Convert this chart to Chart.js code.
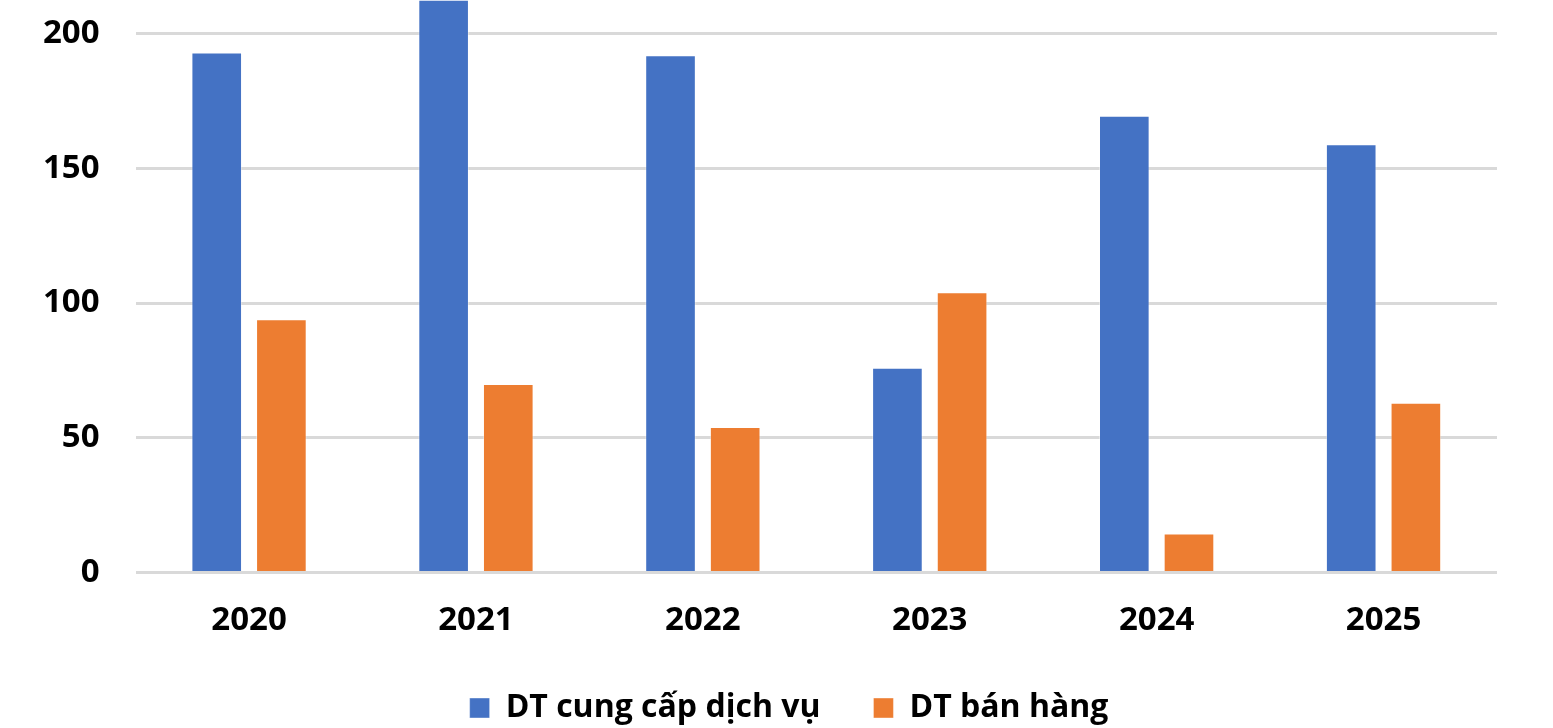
<!DOCTYPE html>
<html>
<head>
<meta charset="utf-8">
<script src="https://cdn.jsdelivr.net/npm/chart.js@4.4.1/dist/chart.umd.min.js"></script>
<style>
  html, body { margin: 0; padding: 0; background: #fff; }
  #wrap { width: 1553px; height: 728px; }
</style>
</head>
<body>
<div id="wrap"><canvas id="mainChart"></canvas></div>
<script>
const years = ["2020", "2021", "2022", "2023", "2024", "2025"];
const dichVu = [193, 230, 192, 76, 169.5, 159];
const banHang = [94, 70, 54, 104, 14.5, 63];
const yTicks = [0, 50, 100, 150, 200];

const font = { family: "'Open Sans', sans-serif", weight: "bold" };

// nudge the legend a bit right, like in the original
const legendShift = {
  id: "legendShift",
  afterLayout(chart) {
    chart.legend.left += 19;
    chart.legend.right += 19;
  },
};

new Chart(document.getElementById("mainChart"), {
  type: "bar",
  data: {
    labels: years,
    datasets: [
      {
        label: "DT cung cấp dịch vụ",
        data: dichVu,
        backgroundColor: "#4472C4",
        borderColor: "rgba(255,255,255,0.4)",
        borderWidth: 1,
        categoryPercentage: 0.57,
        barPercentage: 0.783,
      },
      {
        label: "DT bán hàng",
        data: banHang,
        backgroundColor: "#ED7D31",
        borderColor: "rgba(255,255,255,0.4)",
        borderWidth: 1,
        categoryPercentage: 0.57,
        barPercentage: 0.783,
      },
    ],
  },
  plugins: [legendShift],
  options: {
    responsive: true,
    maintainAspectRatio: false,
    animation: false,
    layout: { padding: { top: 0, right: 56, left: 43, bottom: 0 } },
    scales: {
      x: {
        // invisible tick marks only used as spacing above the year labels
        grid: { display: false, drawTicks: true, tickLength: 30.5 },
        border: { display: false },
        ticks: { color: "#000", font: { ...font, size: 33, lineHeight: 0.025 }, padding: 17.6 },
      },
      y: {
        min: 0,
        max: 212.2,
        afterBuildTicks: (axis) => {
          axis.ticks = yTicks.map((v) => ({ value: v }));
        },
        // tiny lineHeight so the labels don't push the plot area down from the top
        grid: { color: "#d9d9d9", lineWidth: 3, drawTicks: true, tickLength: 36, tickColor: "rgba(0,0,0,0)" },
        border: { display: false },
        ticks: { color: "#000", font: { ...font, size: 33, lineHeight: 0.05 }, padding: 0 },
      },
    },
    plugins: {
      legend: {
        position: "bottom",
        maxHeight: 89,
        labels: {
          color: "#000",
          font: { ...font, size: 32 },
          boxWidth: 20,
          boxHeight: 20,
          padding: 53,
        },
      },
      tooltip: { enabled: false },
    },
  },
});
</script>
</body>
</html>
